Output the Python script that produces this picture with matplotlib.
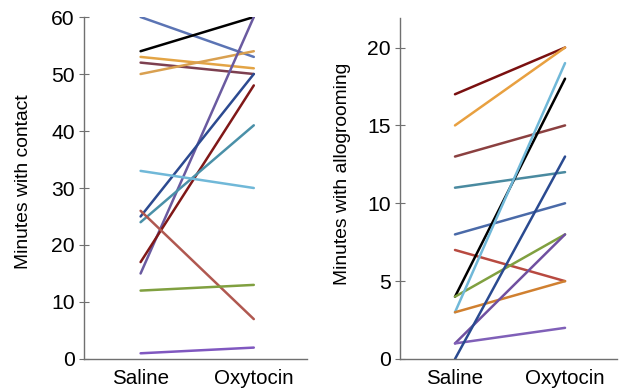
import matplotlib.pyplot as plt

plt.rcParams['font.family'] = ['Liberation Sans', 'DejaVu Sans']

conditions = ['Saline', 'Oxytocin']

# minutes with contact, one pair per animal (saline, oxytocin)
contact_saline = [60, 54, 53, 52, 50, 15, 25, 17, 24, 33, 26, 12, 1]
contact_oxy = [53, 60, 51, 50, 54, 60, 50, 48, 41, 30, 7, 13, 2]
contact_colors = ['#5b74b4', '#000000', '#e3a445', '#7d4050', '#d9a050',
                  '#6a5aa0', '#2c4a90', '#801818', '#4a90a8', '#70b8d8',
                  '#b05850', '#80a040', '#8058c0']

# minutes with allogrooming
groom_saline = [17, 15, 13, 11, 8, 7, 4, 4, 3, 3, 1, 1, 0]
groom_oxy = [20, 20, 15, 12, 10, 5, 18, 8, 19, 5, 8, 2, 13]
groom_colors = ['#7a1010', '#e8a040', '#8b4040', '#4a8aa0', '#4a6aa8',
                '#b84a40', '#000000', '#80a040', '#70b8d8', '#d08030',
                '#7050a0', '#8060b8', '#2a4a90']

fig = plt.figure(figsize=(6.23, 3.92), dpi=100)
ax1 = fig.add_axes([0.1348, 0.0842, 0.358, 0.8724])
ax2 = fig.add_axes([0.642, 0.0842, 0.348, 0.870])


def style(ax, ylim, yticks, ylabel, label_xy):
    for s in ['top', 'right']:
        ax.spines[s].set_visible(False)
    for s in ['left', 'bottom']:
        ax.spines[s].set_color('#707070')
        ax.spines[s].set_linewidth(1.0)
    ax.set_xlim(-0.5, 1.47)
    ax.set_ylim(*ylim)
    ax.set_xticks([0, 1])
    ax.set_xticklabels(conditions, fontsize=14.8)
    ax.tick_params(axis='x', length=0, pad=7)
    ax.set_yticks(yticks)
    ax.tick_params(axis='y', direction='inout', length=7, color='#707070',
                   labelsize=15.2, pad=3)
    ax.set_ylabel(ylabel, fontsize=13.9)
    ax.yaxis.set_label_coords(*label_xy)


for s, o, c in zip(contact_saline, contact_oxy, contact_colors):
    ax1.plot([0, 1], [s, o], color=c, lw=1.8, solid_capstyle='round')
style(ax1, (0, 60), range(0, 61, 10), 'Minutes with contact', (-0.235, 0.518))

for s, o, c in zip(groom_saline, groom_oxy, groom_colors):
    ax2.plot([0, 1], [s, o], color=c, lw=1.8, solid_capstyle='round')
style(ax2, (0, 21.9), range(0, 21, 5), 'Minutes with allogrooming', (-0.225, 0.542))

fig.savefig('out.png', dpi=100)
